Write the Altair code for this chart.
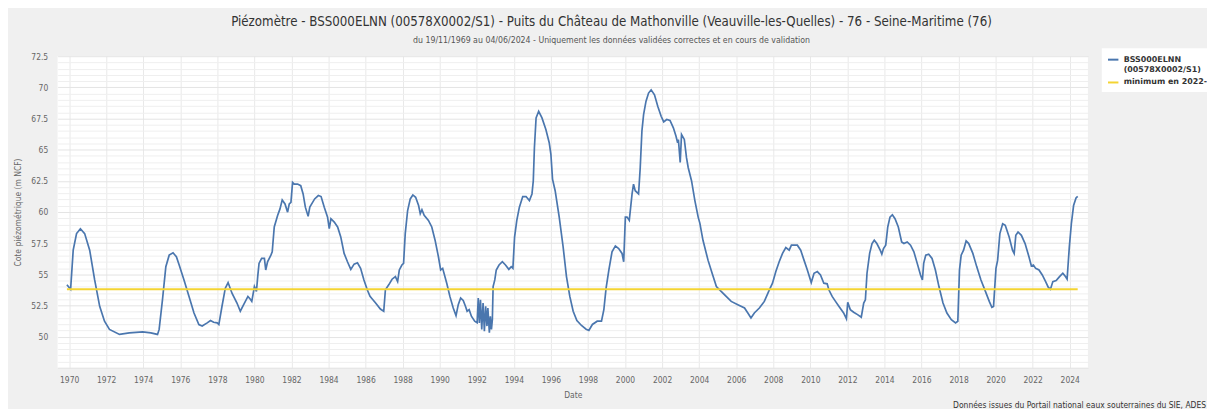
import altair as alt
import pandas as pd
import numpy as np

TITLE = "Piézomètre - BSS000ELNN (00578X0002/S1) - Puits du Château de Mathonville (Veauville-les-Quelles) - 76 - Seine-Maritime (76)"
SUBTITLE = "du 19/11/1969 au 04/06/2024 - Uniquement les données validées correctes et en cours de validation"
FOOTER = "Données issues du Portail national eaux souterraines du SIE, ADES"
SERIES_MAIN = "BSS000ELNN (00578X0002/S1)"
SERIES_MIN = "minimum en 2022-2023"
Y_TITLE = "Cote piézométrique (m NCF)"
X_TITLE = "Date"

# decimal years
years = [
    1969.88, 1970.08, 1970.22, 1970.40, 1970.61, 1970.84, 1971.11, 1971.38, 1971.65, 1971.91,
    1972.18, 1972.72, 1973.25, 1973.97, 1974.41, 1974.77, 1974.86, 1975.04, 1975.22, 1975.40,
    1975.61, 1975.79, 1975.94, 1976.20, 1976.47, 1976.74, 1977.00, 1977.18, 1977.45, 1977.63,
    1977.80, 1977.99, 1978.08, 1978.25, 1978.43, 1978.58, 1978.79, 1979.06, 1979.24, 1979.42,
    1979.65, 1979.77, 1979.86, 1980.00, 1980.11, 1980.18, 1980.25, 1980.39, 1980.54, 1980.61,
    1980.71, 1980.89, 1980.96, 1981.07, 1981.25, 1981.38, 1981.50, 1981.65, 1981.79, 1981.88,
    1981.97, 1982.06, 1982.15, 1982.33, 1982.50, 1982.63, 1982.75, 1982.90, 1982.99, 1983.25,
    1983.45, 1983.60, 1983.77, 1983.95, 1984.04, 1984.13, 1984.31, 1984.49, 1984.66, 1984.84,
    1985.02, 1985.20, 1985.38, 1985.56, 1985.73, 1985.91, 1986.09, 1986.24, 1986.36, 1986.54,
    1986.80, 1986.98, 1987.07, 1987.25, 1987.43, 1987.61, 1987.73, 1987.82, 1987.96, 1988.05,
    1988.14, 1988.27, 1988.41, 1988.55, 1988.70, 1988.86, 1988.95, 1989.04, 1989.16, 1989.39,
    1989.57, 1989.75, 1989.93, 1990.05, 1990.16, 1990.38, 1990.55, 1990.73, 1990.88, 1991.00,
    1991.13, 1991.27, 1991.39, 1991.48, 1991.59, 1991.71, 1991.89, 1992.02, 1992.08, 1992.14,
    1992.20, 1992.27, 1992.34, 1992.41, 1992.48, 1992.55, 1992.60, 1992.68, 1992.73, 1992.79,
    1992.84, 1992.88, 1992.97, 1993.05, 1993.20, 1993.38, 1993.55, 1993.73, 1993.86, 1993.95,
    1994.04, 1994.16, 1994.30, 1994.48, 1994.66, 1994.84, 1994.98, 1995.05, 1995.11, 1995.20,
    1995.34, 1995.52, 1995.73, 1995.91, 1996.00, 1996.09, 1996.23, 1996.45, 1996.66, 1996.84,
    1997.02, 1997.20, 1997.40, 1997.65, 1997.90, 1998.05, 1998.24, 1998.50, 1998.73, 1998.86,
    1998.98, 1999.13, 1999.30, 1999.48, 1999.66, 1999.84, 1999.93, 2000.02, 2000.11, 2000.23,
    2000.38, 2000.46, 2000.55, 2000.73, 2000.82, 2000.91, 2001.00, 2001.13, 2001.27, 2001.41,
    2001.59, 2001.77, 2001.95, 2002.09, 2002.25, 2002.43, 2002.61, 2002.75, 2002.84, 2002.88,
    2002.98, 2003.05, 2003.20, 2003.32, 2003.41, 2003.59, 2003.77, 2003.95, 2004.04, 2004.21,
    2004.48, 2004.70, 2004.93, 2005.20, 2005.46, 2005.73, 2006.09, 2006.45, 2006.63, 2006.80,
    2006.98, 2007.25, 2007.52, 2007.79, 2007.96, 2008.14, 2008.32, 2008.50, 2008.68, 2008.86,
    2008.98, 2009.13, 2009.30, 2009.48, 2009.66, 2009.84, 2010.05, 2010.20, 2010.38, 2010.55,
    2010.73, 2010.91, 2011.00, 2011.18, 2011.36, 2011.54, 2011.80, 2011.95, 2012.02, 2012.16,
    2012.34, 2012.55, 2012.75, 2012.88, 2012.97, 2013.06, 2013.20, 2013.33, 2013.45, 2013.59,
    2013.77, 2013.86, 2013.95, 2014.07, 2014.18, 2014.30, 2014.43, 2014.57, 2014.75, 2014.93,
    2015.05, 2015.23, 2015.41, 2015.59, 2015.77, 2015.95, 2016.05, 2016.12, 2016.23, 2016.39,
    2016.57, 2016.75, 2016.94, 2017.16, 2017.37, 2017.61, 2017.84, 2017.96, 2018.05, 2018.14,
    2018.27, 2018.41, 2018.55, 2018.77, 2018.98, 2019.21, 2019.45, 2019.66, 2019.80, 2019.89,
    2020.02, 2020.11, 2020.23, 2020.38, 2020.52, 2020.73, 2020.91, 2021.00, 2021.09, 2021.21,
    2021.39, 2021.59, 2021.80, 2021.93, 2022.04, 2022.16, 2022.34, 2022.52, 2022.70, 2022.84,
    2022.96, 2023.09, 2023.27, 2023.45, 2023.63, 2023.77, 2023.86, 2023.98, 2024.09, 2024.21,
    2024.34, 2024.43,
]

levels = [
    54.16, 53.80, 56.94, 58.27, 58.66, 58.27, 56.94, 54.55, 52.43, 51.24,
    50.58, 50.18, 50.31, 50.39, 50.31, 50.18, 50.58, 52.97, 55.61, 56.54,
    56.73, 56.41, 55.75, 54.55, 53.23, 51.90, 50.97, 50.85, 51.11, 51.30,
    51.16, 51.11, 50.97, 52.44, 53.89, 54.34, 53.49, 52.70, 52.04, 52.57,
    53.23, 53.02, 52.83, 54.02, 53.63, 54.82, 55.88, 56.28, 56.28, 55.35,
    56.01, 56.54, 56.81, 58.80, 59.72, 60.25, 60.97, 60.65, 59.99, 60.65,
    60.78, 62.37, 62.24, 62.24, 62.11, 61.45, 60.39, 59.65, 60.39, 61.05,
    61.32, 61.24, 60.39, 59.59, 58.67, 59.46, 59.19, 58.80, 58.00, 56.68,
    56.01, 55.40, 55.82, 55.93, 55.48, 54.55, 53.76, 53.23, 53.02, 52.70,
    52.22, 52.04, 53.76, 54.16, 54.61, 54.82, 54.42, 55.35, 55.75, 55.88,
    58.27, 60.12, 61.05, 61.37, 61.18, 60.52, 59.86, 60.18, 59.73, 59.33,
    58.80, 57.74, 56.41, 55.35, 55.48, 54.29, 53.23, 52.30, 51.69, 52.57,
    53.10, 52.91, 52.44, 52.04, 52.17, 51.64, 51.24, 51.11, 53.10, 51.11,
    52.96, 50.58, 52.70, 50.44, 52.44, 50.85, 52.30, 50.31, 51.64, 50.58,
    51.37, 54.02, 54.55, 55.35, 55.75, 56.01, 55.75, 55.40, 55.61, 55.48,
    57.99, 59.33, 60.39, 61.24, 61.24, 60.92, 61.45, 62.51, 65.16, 67.55,
    68.08, 67.55, 66.62, 65.56, 64.63, 62.64, 61.71, 59.59, 57.20, 54.82,
    53.23, 52.04, 51.30, 50.90, 50.60, 50.50, 50.98, 51.24, 51.24, 52.17,
    53.89, 55.35, 56.81, 57.28, 57.07, 56.68, 56.01, 59.59, 59.59, 59.33,
    61.45, 62.24, 61.71, 61.45, 63.57, 66.49, 67.81, 68.87, 69.54, 69.80,
    69.40, 68.47, 67.68, 67.23, 67.42, 67.34, 66.75, 66.09, 65.56, 65.82,
    63.97, 66.22, 65.82, 64.36, 63.57, 62.51, 60.92, 59.59, 59.11, 57.73,
    56.14, 55.09, 54.02, 53.62, 53.23, 52.83, 52.57, 52.30, 51.90, 51.50,
    51.90, 52.30, 52.83, 53.76, 54.29, 55.22, 56.01, 56.68, 57.15, 56.94,
    57.34, 57.34, 57.34, 56.94, 56.14, 55.35, 54.34, 55.09, 55.22, 54.95,
    54.29, 54.24, 53.76, 53.23, 52.83, 52.44, 51.90, 51.43, 52.75, 52.17,
    51.96, 51.77, 51.56, 52.70, 52.96, 55.09, 56.68, 57.47, 57.74, 57.47,
    56.94, 56.62, 57.07, 57.34, 58.80, 59.59, 59.78, 59.46, 58.80, 57.60,
    57.47, 57.60, 57.34, 56.81, 55.88, 54.95, 54.55, 55.88, 56.54, 56.62,
    56.27, 55.35, 54.02, 52.70, 51.90, 51.37, 51.11, 51.24, 55.35, 56.54,
    56.94, 57.68, 57.47, 56.68, 55.62, 54.55, 53.63, 52.83, 52.36, 52.43,
    55.48, 56.14, 58.27, 59.06, 58.93, 58.00, 56.94, 56.67, 58.13, 58.40,
    58.13, 57.47, 56.41, 55.67, 55.75, 55.48, 55.35, 54.95, 54.42, 53.97,
    53.80, 54.42, 54.50, 54.82, 55.09, 54.82, 54.61, 57.20, 59.06, 60.52,
    61.13, 61.26,
]

min_level = 53.8
min_span = [years[0], years[-1]]

y_tick_values = [47.5 + 0.5 * i for i in range(51)]


def to_date(y):
    yr = int(np.floor(y))
    start = pd.Timestamp(year=yr, month=1, day=1)
    end = pd.Timestamp(year=yr + 1, month=1, day=1)
    return (start + (end - start) * (y - yr)).strftime("%Y-%m-%d")


main_df = pd.DataFrame({
    "date": [to_date(v) for v in years],
    "level": levels,
    "series": SERIES_MAIN,
})
min_df = pd.DataFrame({
    "date": [to_date(v) for v in min_span],
    "level": [min_level, min_level],
    "series": SERIES_MIN,
})
footer_df = pd.DataFrame({"t": [FOOTER]})

FONT_C = "DejaVu Sans Condensed, Liberation Sans Narrow, DejaVu Sans"
FONT = "DejaVu Sans"

color_scale = alt.Scale(domain=[SERIES_MAIN, SERIES_MIN], range=["#4a76ae", "#f4d432"])

x_enc = alt.X(
    "date:T",
    scale=alt.Scale(type="utc", domain=["1969-05-19", "2024-12-24"]),
    axis=alt.Axis(
        title=X_TITLE,
        format="%Y",
        tickCount={"interval": "year", "step": 2},
        grid=True,
        gridColor="#e9e9e9",
        ticks=False,
        domain=False,
        labelPadding=8,
        labelFont=FONT_C,
        labelFontSize=8.5,
        labelColor="#666666",
        titleFont=FONT_C,
        titleFontSize=8.5,
        titleFontWeight="normal",
        titleColor="#666666",
        titlePadding=6,
    ),
)

y_enc = alt.Y(
    "level:Q",
    scale=alt.Scale(domain=[47.5, 72.5], nice=False, zero=False),
    axis=alt.Axis(
        title=Y_TITLE,
        values=y_tick_values,
        tickCount=200,
        labelExpr="(datum.value >= 50 && datum.value % 2.5 == 0) ? toString(datum.value) : ''",
        labelOverlap=False,
        grid=True,
        gridColor=alt.condition("datum.value % 2.5 == 0", alt.value("#e4e4e4"), alt.value("#efefef")),
        ticks=False,
        domain=False,
        labelPadding=10,
        labelFont=FONT_C,
        labelFontSize=8.5,
        labelColor="#666666",
        titleFont=FONT_C,
        titleFontSize=8.5,
        titleFontWeight="normal",
        titleColor="#666666",
        titlePadding=8,
    ),
)

legend = alt.Legend(
    title=None,
    orient="none",
    legendX=1052,
    legendY=-8,
    fillColor="white",
    padding=5,
    symbolType="stroke",
    symbolStrokeWidth=2,
    symbolSize=110,
    labelFont=FONT,
    labelFontSize=8,
    labelColor="#333333",
    labelFontWeight="bold",
    labelLimit=200,
    rowPadding=2,
    labelExpr="datum.label == '" + SERIES_MAIN + "' ? ['BSS000ELNN', '(00578X0002/S1)'] : datum.label",
)

main_line = alt.Chart(main_df).mark_line(strokeWidth=1.7).encode(
    x=x_enc,
    y=y_enc,
    color=alt.Color("series:N", scale=color_scale, legend=legend),
)

min_line = alt.Chart(min_df).mark_line(strokeWidth=2).encode(
    x="date:T",
    y="level:Q",
    color=alt.Color("series:N", scale=color_scale, legend=legend),
)

footer = alt.Chart(footer_df).mark_text(
    align="right", baseline="middle", font=FONT_C, fontSize=8.5, color="#333333"
).encode(text="t:N", x=alt.value(1157), y=alt.value(351))

chart = alt.layer(main_line, min_line, footer).properties(
    width=1038,
    height=314,
    autosize=alt.AutoSizeParams(type="none"),
    padding={"left": 50, "top": 47, "right": 120, "bottom": 50},
    background="#f0f0f0",
    title=alt.TitleParams(
        text=TITLE,
        subtitle=SUBTITLE,
        anchor="middle",
        frame="group",
        dx=39,
        offset=3,
        font=FONT_C,
        fontSize=13.3,
        fontWeight="normal",
        color="#333333",
        subtitleFont=FONT_C,
        subtitleFontSize=8.8,
        subtitleColor="#555555",
        subtitlePadding=8,
    ),
).configure_view(fill="white", stroke=None)

chart.save("out.html", embed_options={"renderer": "svg", "actions": False})
